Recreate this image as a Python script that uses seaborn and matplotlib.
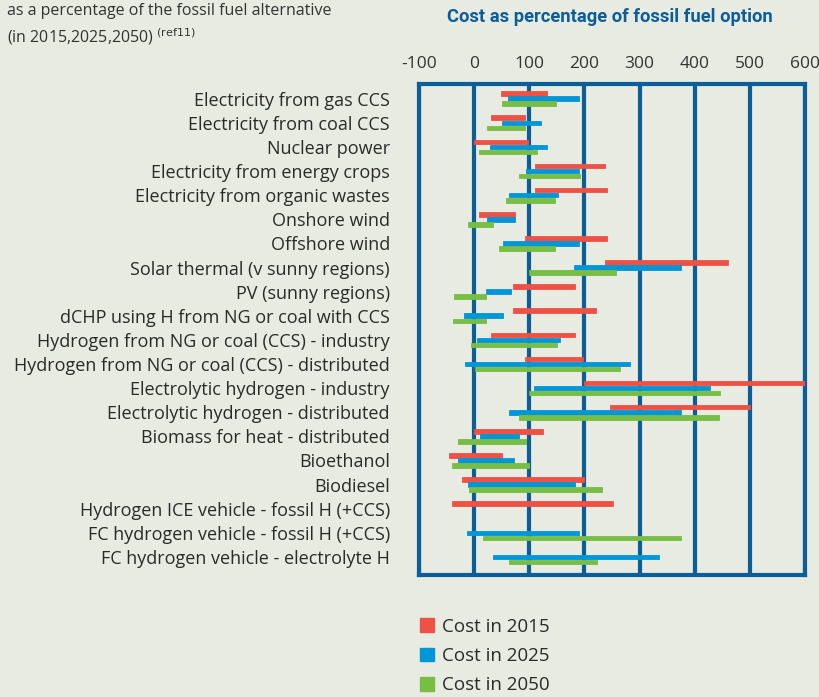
import numpy as np
import pandas as pd
import seaborn as sns
import matplotlib.pyplot as plt
from matplotlib.patches import Patch

categories = [
    "Electricity from gas CCS",
    "Electricity from coal CCS",
    "Nuclear power",
    "Electricity from energy crops",
    "Electricity from organic wastes",
    "Onshore wind",
    "Offshore wind",
    "Solar thermal (v sunny regions)",
    "PV (sunny regions)",
    "dCHP using H from NG or coal with CCS",
    "Hydrogen from NG or coal (CCS) - industry",
    "Hydrogen from NG or coal (CCS) - distributed",
    "Electrolytic hydrogen - industry",
    "Electrolytic hydrogen - distributed",
    "Biomass for heat - distributed",
    "Bioethanol",
    "Biodiesel",
    "Hydrogen ICE vehicle - fossil H (+CCS)",
    "FC hydrogen vehicle - fossil H (+CCS)",
    "FC hydrogen vehicle - electrolyte H",
]

# cost ranges (low, high) as % of fossil fuel option
low_2015 = [48, 30, 0, 111, 111, 9, 93, 238, 71, 71, 30, 93, 200, 246, 0, -45, -22, -40, np.nan, np.nan]
high_2015 = [132, 92, 98, 238, 241, 74, 241, 460, 182, 221, 182, 198, 600, 500, 124, 51, 200, 251, np.nan, np.nan]
low_2025 = [62, 50, 29, 94, 64, 24, 52, 181, 21, -18, 5, -16, 109, 63, 10, -29, -12, np.nan, -13, 34]
high_2025 = [191, 122, 132, 190, 152, 74, 190, 375, 66, 53, 155, 282, 427, 375, 81, 73, 182, np.nan, 190, 335]
low_2050 = [50, 24, 9, 82, 57, -12, 45, 100, -37, -39, -6, 2, 100, 81, -29, -40, -10, np.nan, 16, 63]
high_2050 = [148, 92, 114, 192, 147, 34, 147, 258, 22, 21, 151, 264, 445, 444, 94, 100, 231, np.nan, 375, 222]

years = ["Cost in 2015", "Cost in 2025", "Cost in 2050"]
colors = ["#ee5145", "#0096d8", "#78bd44"]
x_ticks = [-100, 0, 100, 200, 300, 400, 500, 600]

rows = []
for yr, lo, hi in zip(years, [low_2015, low_2025, low_2050], [high_2015, high_2025, high_2050]):
    for i, cat in enumerate(categories):
        rows.append({"category": cat, "pos": i, "year": yr, "low": lo[i], "high": hi[i]})
df = pd.DataFrame(rows).dropna()

bg = "#e8ebe1"
frame = "#0b5e98"
sns.set_theme(style="white", rc={"figure.facecolor": bg, "axes.facecolor": bg})
plt.rcParams["font.family"] = ["Open Sans", "DejaVu Sans"]

fig = plt.figure(figsize=(8.19, 6.97), dpi=100)
ax = fig.add_axes([419 / 819, 1 - 575 / 697, (805 - 419) / 819, (575 - 84) / 697])

offsets = {"Cost in 2015": -0.21, "Cost in 2025": 0.0, "Cost in 2050": 0.21}
for yr, col in zip(years, colors):
    d = df[df["year"] == yr]
    ax.barh(d["pos"] + offsets[yr], d["high"] - d["low"], left=d["low"], height=0.19,
            color=col, edgecolor=col, linewidth=0.6, zorder=3)

for v in x_ticks:
    ax.axvline(v, color=frame, lw=3, zorder=2)

ax.set_xlim(-100, 600)
ax.set_ylim(19.75, -0.61)
ax.xaxis.tick_top()
ax.set_xticks(x_ticks)
ax.set_xticklabels([str(v) for v in x_ticks], fontsize=12.5, color="#333333")
ax.set_yticks(range(len(categories)))
ax.set_yticklabels(categories, fontsize=13, color="#2a2a2a")
ax.tick_params(axis="x", length=0, pad=9)
ax.tick_params(axis="y", length=0, pad=21)
for s in ax.spines.values():
    s.set_color(frame)
    s.set_linewidth(3)
ax.set_xlabel("")
ax.set_ylabel("")

fig.text(610 / 819, 1 - 17 / 697, "Cost as percentage of fossil fuel option",
         ha="center", va="center", fontsize=13.2, fontweight="bold", color=frame,
         family=["Roboto", "DejaVu Sans"])
fig.text(7 / 819, 1 - 11 / 697, "as a percentage of the fossil fuel alternative",
         ha="left", va="center", fontsize=11.5, color="#333333")
fig.text(7 / 819, 1 - 37 / 697, r"(in 2015,2025,2050)$^{\mathrm{\ (ref11)}}$",
         ha="left", va="center", fontsize=11.5, color="#333333")

handles = [Patch(facecolor=c, edgecolor=c, label=y) for y, c in zip(years, colors)]
fig.legend(handles=handles, loc="upper left", bbox_to_anchor=(403 / 819, 1 - 601 / 697),
           frameon=False, fontsize=13.5, handlelength=0.75, handleheight=0.75,
           handletextpad=0.45, labelspacing=0.6, labelcolor="#2a2a2a")

fig.savefig("out.png", dpi=100, facecolor=bg)
